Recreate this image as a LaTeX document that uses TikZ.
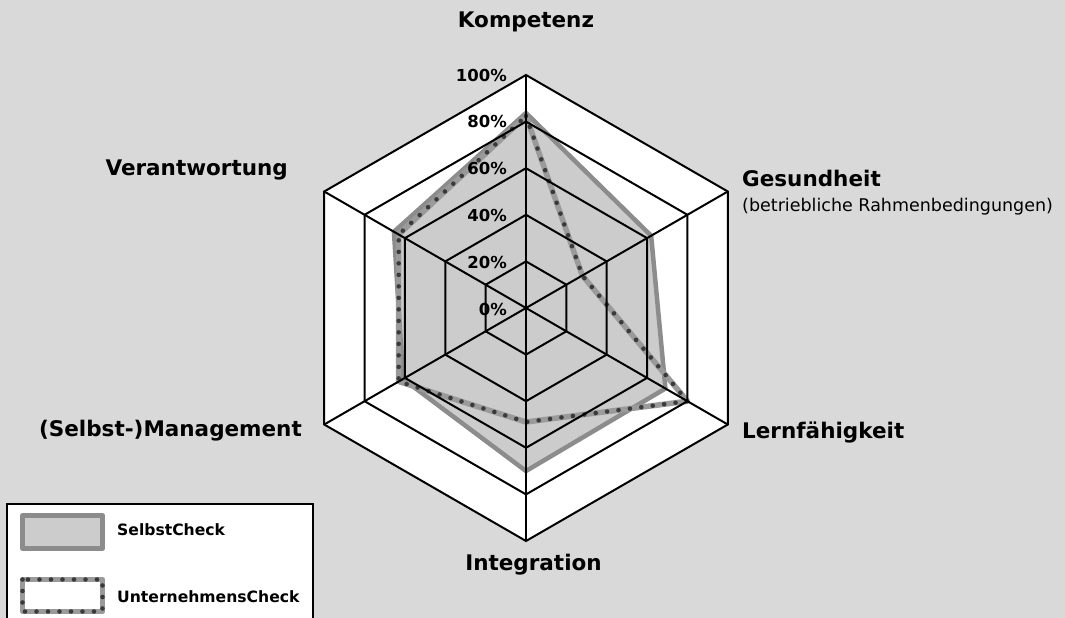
\documentclass[tikz,border=0pt]{standalone}
\usepackage{fontspec}
\setmainfont{DejaVu Sans}
\usetikzlibrary{calc}
\definecolor{bg}{HTML}{D9D9D9}
\definecolor{selfill}{HTML}{CCCCCC}
\definecolor{selline}{HTML}{8C8C8C}
\definecolor{unline}{HTML}{9A9A9A}
\definecolor{undot}{HTML}{3A3A3A}
\tikzset{
  gridline/.style={draw=black, line width=2pt, line join=miter},
  selbstline/.style={draw=selline, line width=4.5pt, line join=round},
  unterband/.style={draw=unline, line width=5.5pt, line join=round},
  unterdots/.style={draw=undot, line width=4.6pt, line cap=round, dash pattern=on 0pt off 11.5pt},
  axislabel/.style={font=\fontsize{21.5}{24}\selectfont\bfseries, inner sep=0pt},
  sublabel/.style={font=\fontsize{17.5}{20}\selectfont, inner sep=0pt},
  pctlabel/.style={font=\fontsize{16.5}{18}\selectfont\bfseries, inner sep=0pt, anchor=east},
  leglabel/.style={font=\fontsize{15.6}{18}\selectfont\bfseries, inner sep=0pt, anchor=base west},
}
\begin{document}
\begin{tikzpicture}[x=1pt,y=-1pt]
\useasboundingbox (0,0) rectangle (1065,618);
\begin{scope}
\clip (0,0) rectangle (1065,618);
\fill[bg] (0,0) rectangle (1065,618);

\begin{scope}[shift={(526,308)}]
  % plot area
  \fill[white] (-90:233) -- (-30:233) -- (30:233) -- (90:233) -- (150:233) -- (210:233) -- cycle;
  % SelbstCheck
  \fill[selfill] (-90:195) -- (-30:144.5) -- (30:161) -- (90:163) -- (150:142) -- (210:152.5) -- cycle;
  \draw[selbstline] (-90:195) -- (-30:144.5) -- (30:161) -- (90:163) -- (150:142) -- (210:152.5) -- cycle;
  % UnternehmensCheck
  \draw[unterband] (-90:192) -- (-30:65) -- (30:186.4) -- (90:114) -- (150:147) -- (210:147) -- cycle;
  \draw[unterdots] (-90:192) -- (-30:65) -- (30:186.4) -- (90:114) -- (150:147) -- (210:147) -- cycle;
  % grid
  \foreach \r in {46.6,93.2,139.8,186.4,233}
    \draw[gridline] (-90:\r) -- (-30:\r) -- (30:\r) -- (90:\r) -- (150:\r) -- (210:\r) -- cycle;
  \foreach \a in {-90,-30,30,90,150,210}
    \draw[gridline] (0,0) -- (\a:233);
\end{scope}

% percent labels
\node[pctlabel] (p100) at (507,75) {100\%};
\node[pctlabel] (p80) at (507,121.5) {80\%};
\node[pctlabel] (p60) at (507,168) {60\%};
\node[pctlabel] (p40) at (507,215) {40\%};
\node[pctlabel] (p20) at (507,262) {20\%};
\node[pctlabel] (p0) at (507,309) {0\%};

% axis labels
\node[axislabel, anchor=base] (kompetenz) at (526,28) {Kompetenz};
\node[axislabel, anchor=base west] (gesundheit) at (742,186) {Gesundheit};
\node[sublabel, anchor=base west] (rahmen) at (742,211) {(betriebliche Rahmenbedingungen)};
\node[axislabel, anchor=base west] (lern) at (742,438) {Lernfähigkeit};
\node[axislabel, anchor=base] (integration) at (533.5,570) {Integration};
\node[axislabel, anchor=base east] (management) at (302,436) {(Selbst-)Management};
\node[axislabel, anchor=base east] (verantwortung) at (288,175) {Verantwortung};

% legend
\draw[draw=black, line width=2pt, fill=white] (7,504) rectangle (313,640);
\draw[selbstline, line width=5pt, fill=selfill] (22.5,515.5) rectangle (102.5,548.5);
\fill[white] (22.5,579.5) rectangle (102.5,611.5);
\draw[unterband] (22.5,579.5) rectangle (102.5,611.5);
\draw[unterdots] (22.5,579.5) rectangle (102.5,611.5);
\node[leglabel] (legsel) at (117,535) {SelbstCheck};
\node[leglabel] (legunt) at (117,602) {UnternehmensCheck};
\end{scope}
\end{tikzpicture}
\end{document}
